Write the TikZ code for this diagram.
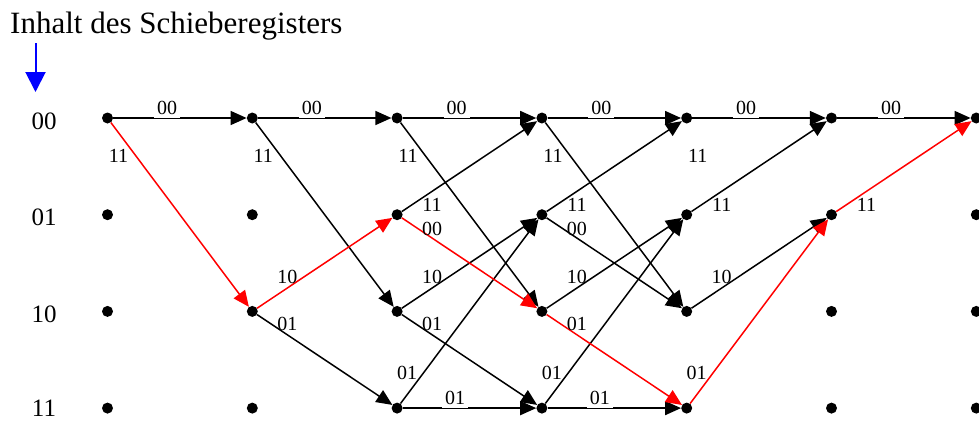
\documentclass[tikz,border=0pt]{standalone}
\usepackage{fontspec}
\setmainfont{Liberation Serif}
\usetikzlibrary{arrows.meta}
\begin{document}
\begin{tikzpicture}[x=1pt,y=-1pt,
  dot/.style={circle,fill=black,inner sep=0pt,minimum size=11pt},
  edge/.style={line width=1.5pt,-{Triangle[length=16pt,width=14pt]}},
  lab/.style={font=\fontsize{20}{20}\selectfont,inner sep=0pt},
  hlab/.style={lab,fill=white,inner xsep=3pt,inner ysep=3.5pt,text height=13.5pt,text depth=0pt},
  rowlab/.style={font=\fontsize{25}{25}\selectfont,anchor=base,inner sep=0pt}]
\useasboundingbox (0,0) rectangle (979,421);
% title and marker
\node[anchor=base west,inner sep=0pt,font=\fontsize{31}{31}\selectfont] (title) at (10,33) {Inhalt des Schieberegisters};
\coordinate (bs) at (35.5,43);
\coordinate (be) at (35.5,92);
\draw[blue,line width=2pt,-{Triangle[length=20pt,width=20pt]}] (bs) -- (be);
% row labels
\foreach \r/\y/\t in {0/118/00,1/214.7/01,2/311.4/10,3/405.5/11}{
  \node[rowlab] (row-\r) at (44,\y+11) {\t};
}
% dots
\foreach \c in {0,...,6}{
  \foreach \r/\y in {0/118,1/214.7,2/311.4,3/408.1}{
    \node[dot] (n-\c-\r) at ({107.5+144.8*\c},\y) {};
  }
}
\def\trellis{0/0/0/00/59.5/-10/hlab/black,
1/0/0/00/59.5/-10/hlab/black,
1/0/2/11/11/37.5/lab/black,
1/2/3/01/35/13/lab/black,
2/0/0/00/59.5/-10/hlab/black,
2/0/2/11/11/37.5/lab/black,
2/1/0/11/35/-10/lab/black,
2/2/1/10/35/-34/lab/black,
2/2/3/01/35/13/lab/black,
2/3/1/01/10/-35.5/lab/black,
2/3/3/01/58/-10/hlab/black,
3/0/0/00/59.5/-10/hlab/black,
3/0/2/11/11/37.5/lab/black,
3/1/0/11/35/-10/lab/black,
3/1/2/00/35/14/lab/black,
3/2/1/10/35/-34/lab/black,
3/3/1/01/10/-35.5/lab/black,
3/3/3/01/58/-10/hlab/black,
4/0/0/00/59.5/-10/hlab/black,
4/1/0/11/35/-10/lab/black,
4/2/1/10/35/-34/lab/black,
5/0/0/00/59.5/-10/hlab/black,
0/0/2/11/11/37.5/lab/red,
1/2/1/10/35/-34/lab/red,
2/1/2/00/35/14/lab/red,
3/2/3/01/35/13/lab/red,
4/3/1/01/10/-35.5/lab/red,
5/1/0/11/35/-10/lab/red}
% edges
\foreach \c/\r/\t/\l/\dx/\dy/\s/\col in \trellis{
  \pgfmathtruncatemacro\cn{\c+1}
  \draw[edge,\col] (n-\c-\r) -- (n-\cn-\t);
}
% labels
\foreach \c/\r/\t/\l/\dx/\dy/\s/\col in \trellis{
  \path (n-\c-\r.center) ++(\dx,\dy) node[\s] (l-\c-\r-\t) {\l};
}
\path (n-4-0.center) ++(11,37.5) node[lab] (l-4-0-x) {11};
\end{tikzpicture}
\end{document}
